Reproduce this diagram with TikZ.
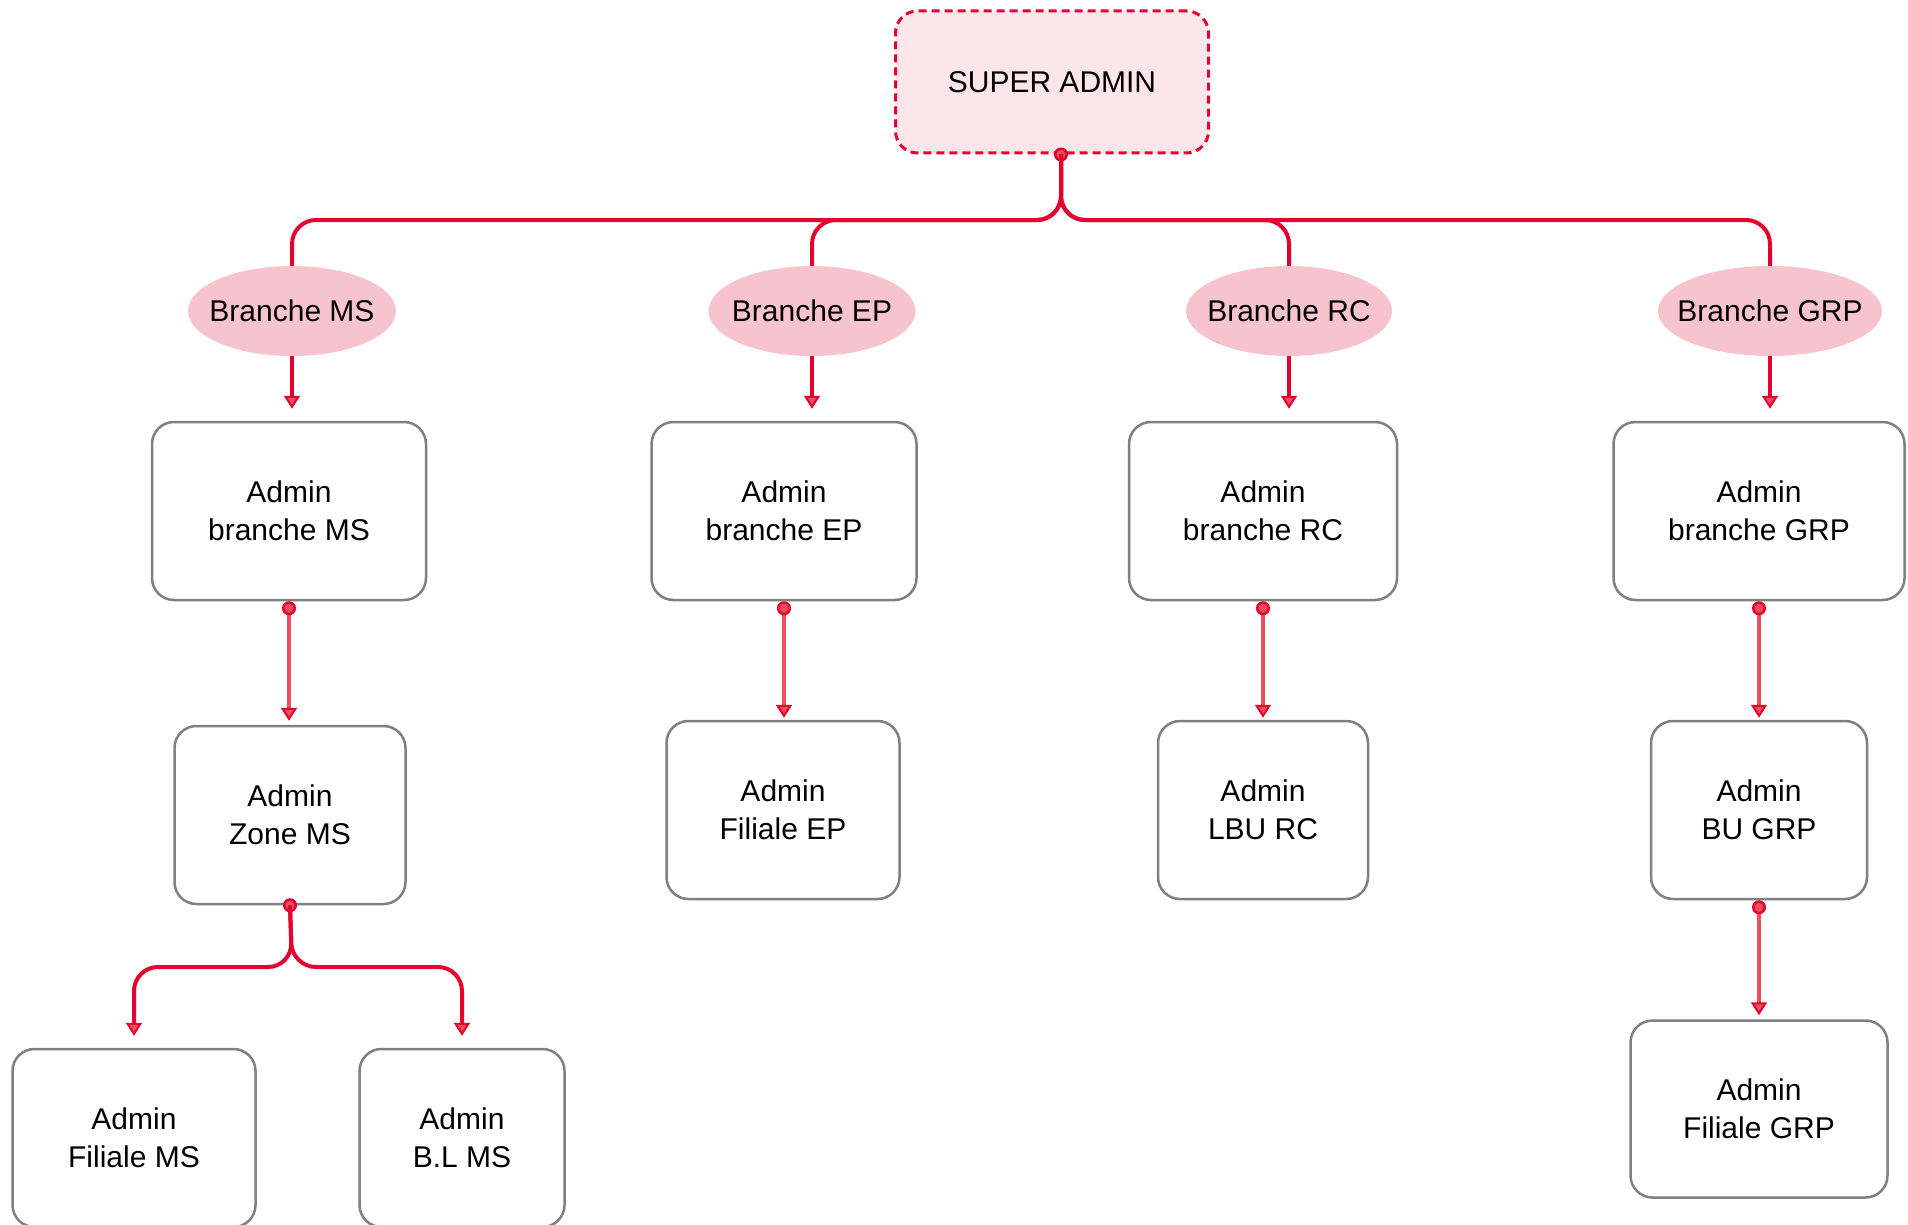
\documentclass[tikz,border=0pt]{standalone}
\usepackage{fontspec}
\setmainfont{Liberation Sans}
\usetikzlibrary{shapes.geometric,arrows.meta}

\definecolor{crimson}{HTML}{E4032E}
\definecolor{linkred}{HTML}{EB4F5C}
\definecolor{rosefill}{HTML}{F7C4CE}
\definecolor{palepink}{HTML}{FCE5EB}
\definecolor{boxgray}{HTML}{808080}

\begin{document}
\begin{tikzpicture}[
	x=1pt, y=-1pt,
	font=\fontsize{30}{38}\selectfont,
	super/.style={
		rectangle,
		draw=crimson,
		line width=3pt,
		dash pattern=on 8pt off 5pt,
		fill=palepink,
		rounded corners=22pt,
		minimum width=313pt,
		minimum height=142pt
	},
	branche/.style={
		ellipse,
		fill=rosefill,
		inner xsep=-30pt,
		inner ysep=0pt,
		minimum height=90pt
	},
	admin/.style={
		rectangle,
		draw=boxgray,
		line width=2.5pt,
		align=center,
		rounded corners=22pt,
		minimum height=178pt
	},
	bus/.style={
		draw=crimson,
		line width=4pt,
		rounded corners=24pt
	},
	down/.style={
		draw=crimson,
		line width=4pt,
		-{Triangle[length=13pt,width=16pt,fill=linkred,line width=2pt]}
	},
	link/.style={
		draw=linkred,
		line width=4pt,
		{Circle[length=14pt,color=crimson,fill=linkred,line width=2.5pt]}-{Triangle[length=13pt,width=16pt,color=crimson,fill=linkred,line width=2pt]}
	},
]

\useasboundingbox (0,0) rectangle (1908,1225);

\node[super] (sa) at (1052, 82) {SUPER ADMIN};

\node[branche, minimum width=208pt] (bms) at (292, 311) {Branche MS};
\node[branche, minimum width=207pt] (bep) at (812, 311) {Branche EP};
\node[branche, minimum width=206pt] (brc) at (1289, 311) {Branche RC};
\node[branche, minimum width=224pt] (bgrp) at (1770, 311) {Branche GRP};

\node[admin, minimum width=274pt] (ams) at (289, 511) {Admin\\branche MS};
\node[admin, minimum width=265pt] (aep) at (784, 511) {Admin\\branche EP};
\node[admin, minimum width=268pt] (arc) at (1263, 511) {Admin\\branche RC};
\node[admin, minimum width=291pt] (agrp) at (1759, 511) {Admin\\branche GRP};

\node[admin, minimum width=231pt] (zms) at (290, 815) {Admin\\Zone MS};
\node[admin, minimum width=233pt] (fep) at (783, 810) {Admin\\Filiale EP};
\node[admin, minimum width=210pt] (lrc) at (1263, 810) {Admin\\LBU RC};
\node[admin, minimum width=216pt] (bugrp) at (1759, 810) {Admin\\BU GRP};

\node[admin, minimum width=243pt] (fms) at (134, 1138) {Admin\\Filiale MS};
\node[admin, minimum width=205pt] (blms) at (462, 1138) {Admin\\B.L MS};
\node[admin, minimum width=257pt, minimum height=177pt] (fgrp) at (1759, 1109) {Admin\\Filiale GRP};

\coordinate (bus) at (1061, 220);
\coordinate (split) at (292, 967);

\draw[bus, {Circle[length=14pt,fill=linkred,line width=2.5pt]}-, shorten <=-7pt] (bus |- sa.south) -- (bus) -| (bms.north);
\draw[bus] (bus |- sa.south) -- (bus) -| (bep.north);
\draw[bus] (bus |- sa.south) -- (bus) -| (brc.north);
\draw[bus] (bus |- sa.south) -- (bus) -| (bgrp.north);

\draw[down, shorten >=12pt] (bms.south) -- (bms.south |- ams.north);
\draw[down, shorten >=12pt] (bep.south) -- (bep.south |- aep.north);
\draw[down, shorten >=12pt] (brc.south) -- (brc.south |- arc.north);
\draw[down, shorten >=12pt] (bgrp.south) -- (bgrp.south |- agrp.north);

\draw[link, shorten >=4pt] (ams.south) -- (ams.south |- zms.north);
\draw[link, shorten >=2pt] (aep.south) -- (aep.south |- fep.north);
\draw[link, shorten >=2pt] (arc.south) -- (arc.south |- lrc.north);
\draw[link, shorten >=2pt] (agrp.south) -- (agrp.south |- bugrp.north);
\draw[link, shorten >=4pt] (bugrp.south) -- (bugrp.south |- fgrp.north);

\draw[bus, {Circle[length=14pt,fill=linkred,line width=2.5pt]}-{Triangle[length=13pt,width=16pt,fill=linkred,line width=2pt]}, shorten <=-7pt, shorten >=12pt] (zms.south) -- (split) -| (fms.north);
\draw[bus, -{Triangle[length=13pt,width=16pt,fill=linkred,line width=2pt]}, shorten >=12pt] (zms.south) -- (split) -| (blms.north);

\end{tikzpicture}
\end{document}
